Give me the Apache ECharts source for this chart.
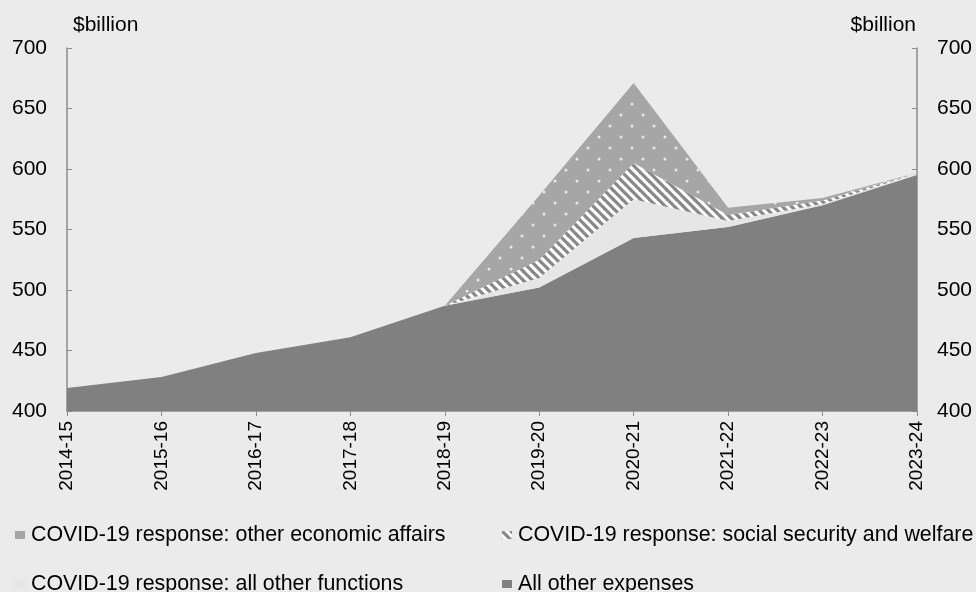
<!DOCTYPE html>
<html>
<head>
<meta charset="utf-8">
<script src="https://cdn.jsdelivr.net/npm/echarts@6/dist/echarts.min.js"></script>
<style>
html,body{margin:0;padding:0;background:#ebebeb;}
#chart{width:976px;height:592px;}
</style>
</head>
<body>
<div id="chart"></div>
<script>
const categories = ['2014-15','2015-16','2016-17','2017-18','2018-19','2019-20','2020-21','2021-22','2022-23','2023-24'];
const allOtherExpenses = [419, 428, 448, 461, 487, 502, 543, 552, 570, 595];
const covidAllOtherFunctions = [0, 0, 0, 0, 0, 8, 32, 5, 1, 0.5];
const covidSocialSecurity = [0, 0, 0, 0, 0, 15, 30, 5, 3, 1];
const covidEconomicAffairs = [0, 0, 0, 0, 0, 53, 66, 6, 2, 0.5];
const yTicks = [400, 450, 500, 550, 600, 650, 700];
const unitLabel = '$billion';

const names = [
  'COVID-19 response: other economic affairs',
  'COVID-19 response: social security and welfare',
  'COVID-19 response: all other functions',
  'All other expenses'
];

function dotPattern() {
  const c = document.createElement('canvas');
  c.width = 22; c.height = 22;
  const g = c.getContext('2d');
  g.fillStyle = '#a6a6a6';
  g.fillRect(0, 0, 22, 22);
  g.fillStyle = 'rgba(238,238,238,0.9)';
  [[5,5],[16,16]].forEach(p => { g.beginPath(); g.arc(p[0], p[1], 1.5, 0, Math.PI*2); g.fill(); });
  return c;
}
function stripePattern() {
  const s = 9;
  const c = document.createElement('canvas');
  c.width = s; c.height = s;
  const g = c.getContext('2d');
  g.fillStyle = '#ffffff';
  g.fillRect(0, 0, s, s);
  g.strokeStyle = '#888888';
  g.lineWidth = 3.2;
  for (let k = -1; k <= 1; k++) {
    g.beginPath();
    g.moveTo(k * s - 1, -1);
    g.lineTo(k * s + s + 1, s + 1);
    g.stroke();
  }
  return c;
}
const dots = {image: dotPattern(), repeat: 'repeat'};
const stripes = {image: stripePattern(), repeat: 'repeat'};

const chart = echarts.init(document.getElementById('chart'));
const font = 'Liberation Sans, Arial, sans-serif';

function areaSeries(name, data, fill, solid) {
  return {
    name: name, type: 'line', stack: 'total', data: data,
    symbol: 'none', smooth: false,
    lineStyle: {width: 0, opacity: 0},
    itemStyle: {color: solid},
    areaStyle: {color: fill, opacity: 1},
    emphasis: {disabled: true}
  };
}

function legendAt(left, top, name, color) {
  return {
    left: left, top: top, padding: 0, orient: 'horizontal',
    itemWidth: 10, itemHeight: 8, itemGap: 0, icon: 'rect',
    selectedMode: false,
    textStyle: {fontSize: 21.4, lineHeight: 22, color: '#000', fontFamily: font, padding: [0,0,0,1]},
    data: [{name: name, itemStyle: {color: color}}]
  };
}

chart.setOption({
  backgroundColor: '#ebebeb',
  animation: false,
  textStyle: {fontFamily: font},
  grid: {left: 67, right: 59, top: 48, bottom: 181},
  legend: [
    legendAt(15, 524, names[0], '#a6a6a6'),
    legendAt(502, 524, names[1], stripes),
    legendAt(15, 573, names[2], '#e6e6e6'),
    legendAt(502, 573, names[3], '#808080')
  ],
  xAxis: {
    type: 'category', data: categories, boundaryGap: false,
    axisLine: {show: true, lineStyle: {color: '#8c8c8c', width: 1.5}},
    axisTick: {show: true, alignWithLabel: true, length: 5, lineStyle: {color: '#8c8c8c'}},
    axisLabel: {rotate: 90, fontSize: 19, color: '#000', margin: 10, fontFamily: font, interval: 0},
    splitLine: {show: false}
  },
  yAxis: [
    {
      type: 'value', min: yTicks[0], max: yTicks[yTicks.length-1], interval: 50,
      name: unitLabel, nameLocation: 'end', nameGap: 23,
      nameTextStyle: {fontSize: 21, color: '#000', align: 'left', verticalAlign: 'middle', padding: [0,0,0,6]},
      axisLine: {show: true, lineStyle: {color: '#8c8c8c', width: 1.5}},
      axisTick: {show: true, inside: true, length: 5, lineStyle: {color: '#8c8c8c'}},
      axisLabel: {fontSize: 21, color: '#000', margin: 20},
      splitLine: {show: false}
    },
    {
      type: 'value', min: yTicks[0], max: yTicks[yTicks.length-1], interval: 50, position: 'right',
      name: unitLabel, nameLocation: 'end', nameGap: 23,
      nameTextStyle: {fontSize: 21, color: '#000', align: 'right', verticalAlign: 'middle', padding: [0,1,0,0]},
      axisLine: {show: true, lineStyle: {color: '#8c8c8c', width: 1.5}},
      axisTick: {show: true, inside: true, length: 5, lineStyle: {color: '#8c8c8c'}},
      axisLabel: {fontSize: 21, color: '#000', margin: 20},
      splitLine: {show: false}
    }
  ],
  series: [
    areaSeries(names[3], allOtherExpenses, '#808080', '#808080'),
    areaSeries(names[2], covidAllOtherFunctions, '#e6e6e6', '#e6e6e6'),
    areaSeries(names[1], covidSocialSecurity, stripes, '#ffffff'),
    areaSeries(names[0], covidEconomicAffairs, dots, '#a6a6a6')
  ]
});
</script>
</body>
</html>
